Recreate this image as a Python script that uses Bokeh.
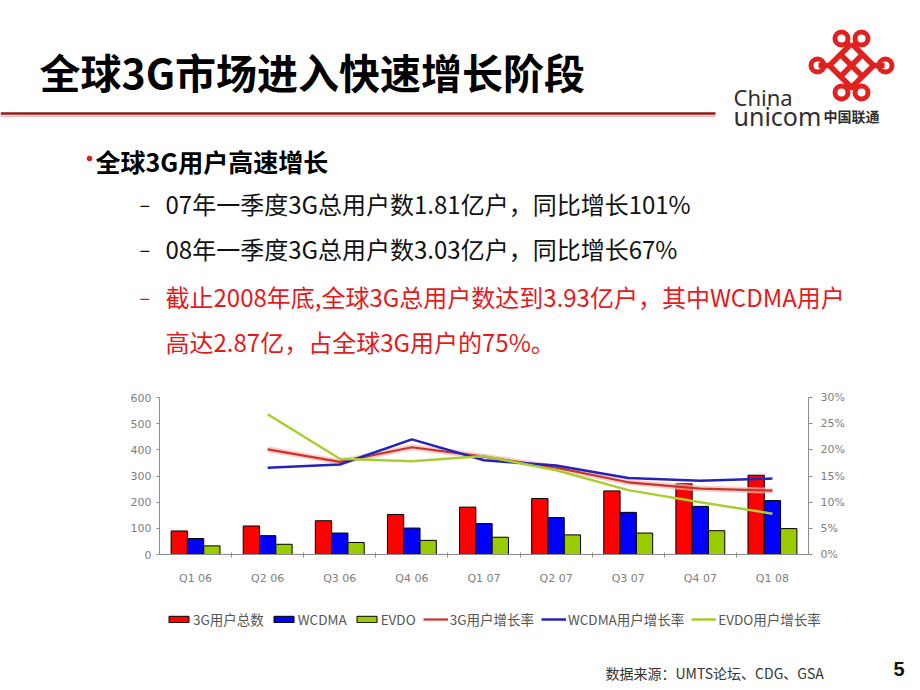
from bokeh.plotting import figure
from bokeh.models import (Range1d, LinearAxis, FixedTicker, NumeralTickFormatter,
                          Legend, LegendItem, ColumnDataSource)
from bokeh.transform import dodge
from bokeh.core.properties import value
from bokeh.embed import file_html
from bokeh.resources import INLINE

NAN = float("nan")

# ---------------- data ----------------
categories = ["Q1 06", "Q2 06", "Q3 06", "Q4 06", "Q1 07", "Q2 07", "Q3 07", "Q4 07", "Q1 08"]
total_users = [90, 109, 129, 153, 181, 214, 243, 270, 303]
wcdma_users = [61, 72, 82, 101, 118, 141, 161, 184, 206]
evdo_users = [33, 39, 46, 54, 66, 75, 82, 91, 99]
growth_3g = [NAN, 0.201, 0.177, 0.205, 0.187, 0.166, 0.138, 0.126, 0.122]
growth_wcdma = [NAN, 0.166, 0.172, 0.220, 0.180, 0.170, 0.146, 0.141, 0.145]
growth_evdo = [NAN, 0.268, 0.183, 0.178, 0.188, 0.161, 0.123, 0.100, 0.078]
left_ticks = [0, 100, 200, 300, 400, 500, 600]
right_ticks = [0, 0.05, 0.10, 0.15, 0.20, 0.25, 0.30]
series_names = ["3G用户总数", "WCDMA", "EVDO", "3G用户增长率", "WCDMA用户增长率", "EVDO用户增长率"]

title_text = "全球3G市场进入快速增长阶段"
heading_text = "全球3G用户高速增长"
body_lines = ["07年一季度3G总用户数1.81亿户，同比增长101%",
              "08年一季度3G总用户数3.03亿户，同比增长67%",
              "截止2008年底,全球3G总用户数达到3.93亿户，其中WCDMA用户",
              "高达2.87亿，占全球3G用户的75%。"]
source_text = "数据来源：UMTS论坛、CDG、GSA"
page_no = "5"

CJK = "Noto Sans CJK SC"
W, H = 916, 688

# chart box on the page (pixels): value axes sit on these edges
BOX_L, BOX_R, BOX_T, BOX_B = 159, 808, 397, 554
X0, X1 = -0.5, len(categories) - 0.5
Y0, Y1 = left_ticks[0], left_ticks[-1]
P0, P1 = right_ticks[0], right_ticks[-1]

kx = (X1 - X0) / (BOX_R - BOX_L)
ky = (Y1 - Y0) / (BOX_B - BOX_T)
kp = (P1 - P0) / (BOX_B - BOX_T)

p = figure(width=W, height=H,
           x_range=Range1d(X0 - BOX_L * kx, X1 + (W - BOX_R) * kx),
           y_range=Range1d(Y0 - (H - BOX_B) * ky, Y1 + BOX_T * ky),
           toolbar_location=None, title=None, output_backend="svg",
           min_border=0, outline_line_color=None)
p.grid.visible = False
p.extra_y_ranges = {"pct": Range1d(P0 - (H - BOX_B) * kp, P1 + BOX_T * kp),
                    "py": Range1d(H, 0)}
p.extra_x_ranges = {"px": Range1d(0, W)}

xs = list(range(len(categories)))
src = ColumnDataSource(dict(x=xs, total=total_users, wcdma=wcdma_users, evdo=evdo_users,
                            g3=growth_3g, gw=growth_wcdma, ge=growth_evdo))

bw = 0.226
r1 = p.vbar(x=dodge("x", -bw), top="total", width=bw, source=src, fill_color="#FF0000",
            line_color="#000000", line_width=1)
r2 = p.vbar(x=dodge("x", 0), top="wcdma", width=bw, source=src, fill_color="#0000FF",
            line_color="#000000", line_width=1)
r3 = p.vbar(x=dodge("x", bw), top="evdo", width=bw, source=src, fill_color="#99CC00",
            line_color="#000000", line_width=1)

p.line("x", "g3", source=src, y_range_name="pct", line_color="#F6BDB6", line_width=6, line_alpha=0.7)
r4 = p.line("x", "g3", source=src, y_range_name="pct", line_color="#C8352B", line_width=2.2)
r5 = p.line("x", "gw", source=src, y_range_name="pct", line_color="#2424B8", line_width=2.5)
r6 = p.line("x", "ge", source=src, y_range_name="pct", line_color="#A8CE32", line_width=2.5)

axis_grey = "#8C8C8C"
label_grey = "#808080"


def style_axis(ax, standoff):
    ax.axis_line_color = axis_grey
    ax.major_tick_line_color = axis_grey
    ax.major_tick_out = 3
    ax.major_tick_in = 0
    ax.minor_tick_line_color = None
    ax.major_label_text_color = label_grey
    ax.major_label_text_font = "DejaVu Sans"
    ax.major_label_text_font_size = "11px"
    ax.major_label_standoff = standoff


ya = p.yaxis[0]
ya.ticker = FixedTicker(ticks=left_ticks)
ya.bounds = (Y0, Y1)
ya.fixed_location = X0
style_axis(ya, 5)

rax = LinearAxis(y_range_name="pct", ticker=FixedTicker(ticks=right_ticks),
                 formatter=NumeralTickFormatter(format="0%"), bounds=(P0, P1), fixed_location=X1)
style_axis(rax, 8)
rax.major_tick_out = 4
p.add_layout(rax, "right")

xa = p.xaxis[0]
xa.ticker = FixedTicker(ticks=xs, minor_ticks=[i + 0.5 for i in xs[:-1]])
xa.major_label_overrides = {i: c for i, c in zip(xs, categories)}
xa.bounds = (X0, X1)
xa.fixed_location = Y0
style_axis(xa, 14)
xa.major_tick_line_color = None
xa.major_tick_out = 0
xa.minor_tick_line_color = axis_grey
xa.minor_tick_out = 3
xa.minor_tick_in = 2

legend = Legend(items=[LegendItem(label=n, renderers=[r]) for n, r in
                       zip(series_names, [r1, r2, r3, r4, r5, r6])],
                orientation="horizontal", location=(166, H - 629),
                glyph_width=25, glyph_height=8, label_standoff=2, spacing=7, padding=0,
                margin=0, border_line_color=None, background_fill_alpha=0,
                label_text_font=CJK, label_text_font_size="13.5px", label_text_color="#555555",
                label_height=14)
p.add_layout(legend, "center")

# ---------------- page texts (page pixel coordinates) ----------------
PX = dict(x_range_name="px", y_range_name="py")


def text(x, y, s, size, color="#000000", font=CJK, style="normal", baseline="middle"):
    p.text(x=[x], y=[y], text=[s], text_font=value(font), text_font_size=value(size),
           text_font_style=style, text_color=color, text_baseline=baseline, text_align="left", **PX)


text(39, 70, title_text, "41px", style="bold")
p.scatter(x=[89], y=[158], size=5.5, marker="circle", fill_color="#D42020", line_color=None, **PX)
text(95, 160, heading_text, "25px", style="bold")
line_y = [203, 248, 296, 341]
line_col = ["#111111", "#111111", "#E41A1C", "#E41A1C"]
for yy, txt, col in zip(line_y, body_lines, line_col):
    text(165, yy, txt, "24px", color=col)
for yy, col in zip(line_y[:3], line_col[:3]):
    text(139, yy, "–", "20px", color=col)
text(605, 672, source_text, "14px", color="#333333")
text(893, 668, page_no, "20px", color="#111111", font="Liberation Sans", style="bold")

# logo
text(733, 96, "China", "22px", color="#2F2F2F", font="Noto Sans", baseline="alphabetic")
text(733, 115, "unicom", "25px", color="#2F2F2F", font="Noto Sans", baseline="alphabetic")
text(823, 115, "中国联通", "14px", color="#2F2F2F", style="bold", baseline="alphabetic")

# header rule
p.segment(x0=[0], y0=[113], x1=[715], y1=[113], line_color="#8E1B1B", line_width=2.6, **PX)
p.segment(x0=[0], y0=[115.6], x1=[715], y1=[115.6], line_color="#EDBABA", line_width=1.6, **PX)

# knot
knot = "#E0211D"
p.multi_line(xs=[[851, 873, 851, 829, 851], [840, 862], [862, 840], [818, 829], [873, 884]],
             ys=[[43, 65, 87, 65, 43], [54, 76], [54, 76], [65, 65], [65, 65]],
             line_color=knot, line_width=5.5, line_join="round", **PX)
p.annulus(x=[841, 861, 841, 861, 817, 885], y=[38, 38, 92, 92, 65, 65],
          inner_radius=4, outer_radius=9, fill_color=knot, line_color=None, **PX)

open("out.html", "w").write(file_html(p, INLINE))
